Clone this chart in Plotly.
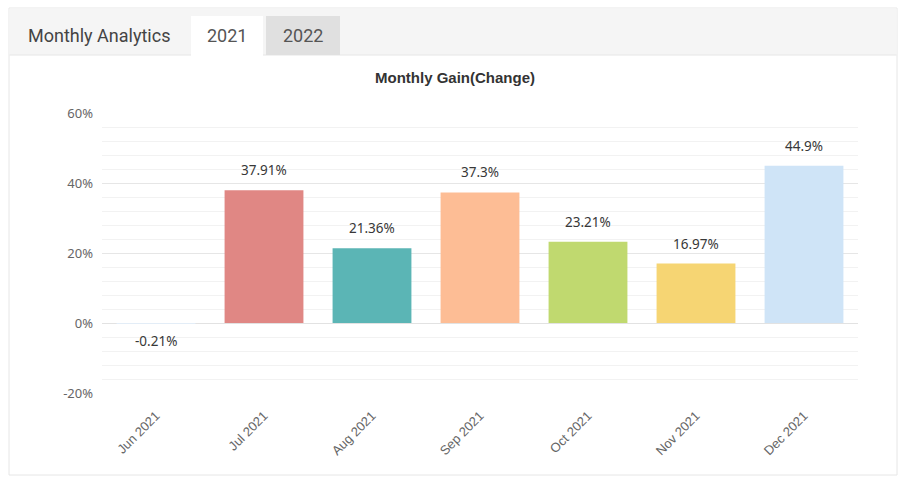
import plotly.graph_objects as go

months = ["Jun 2021", "Jul 2021", "Aug 2021", "Sep 2021", "Oct 2021", "Nov 2021", "Dec 2021"]
gains = [-0.21, 37.91, 21.36, 37.3, 23.21, 16.97, 44.9]
labels = ["-0.21%", "37.91%", "21.36%", "37.3%", "23.21%", "16.97%", "44.9%"]
colors = ["#e3edf7", "#e08784", "#5bb5b5", "#fdbd95", "#c0d96f", "#f6d573", "#cfe4f7"]
y_ticks = [-20, 0, 20, 40, 60]
y_tick_text = ["-20%", "0%", "20%", "40%", "60%"]

W, H = 908, 486
L, R, T, B = 102, 50, 113, 93
pw, ph = W - L - R, H - T - B


def px(x):
    return (x - L) / pw


def py(y):
    return (H - B - y) / ph


fig = go.Figure()
fig.add_trace(go.Bar(
    x=months, y=gains, marker=dict(color=colors, line=dict(width=0)),
    width=0.73, hoverinfo="x+y", showlegend=False,
))

for m, g, t in zip(months, gains, labels):
    fig.add_annotation(
        x=m, y=g, text=t, showarrow=False, xref="x", yref="y",
        yshift=20 if g >= 0 else -17, yanchor="middle",
        font=dict(family="Noto Sans", size=13.5, color="#383838"),
    )

shapes = []
# panel border
shapes.append(dict(type="rect", xref="paper", yref="paper",
                   x0=px(9), x1=px(897), y0=py(475), y1=py(8),
                   line=dict(color="#e6e6e6", width=1), fillcolor="rgba(0,0,0,0)", layer="below"))
# header band
shapes.append(dict(type="rect", xref="paper", yref="paper",
                   x0=px(9.5), x1=px(896.5), y0=py(55), y1=py(8.5),
                   line=dict(width=0), fillcolor="#f5f5f5", layer="below"))
shapes.append(dict(type="line", xref="paper", yref="paper",
                   x0=px(9.5), x1=px(896.5), y0=py(55), y1=py(55),
                   line=dict(color="#e6e6e6", width=1), layer="below"))
# tab 2021 (active)
shapes.append(dict(type="rect", xref="paper", yref="paper",
                   x0=px(191), x1=px(263), y0=py(56), y1=py(16),
                   line=dict(width=0), fillcolor="#ffffff", layer="below"))
# tab 2022
shapes.append(dict(type="rect", xref="paper", yref="paper",
                   x0=px(266), x1=px(340), y0=py(55), y1=py(16),
                   line=dict(width=0), fillcolor="#e0e0e0", layer="below"))

fig.update_layout(shapes=shapes)

fig.add_annotation(xref="paper", yref="paper", x=px(26), y=py(35), xanchor="left", yanchor="middle",
                   text="Monthly Analytics", showarrow=False,
                   font=dict(family="Roboto", size=18, color="#444444"))
fig.add_annotation(xref="paper", yref="paper", x=px(227), y=py(35), xanchor="center", yanchor="middle",
                   text="2021", showarrow=False,
                   font=dict(family="Roboto", size=18, color="#555555"))
fig.add_annotation(xref="paper", yref="paper", x=px(303), y=py(35), xanchor="center", yanchor="middle",
                   text="2022", showarrow=False,
                   font=dict(family="Roboto", size=18, color="#555555"))
fig.add_annotation(xref="paper", yref="paper", x=px(455), y=py(77), xanchor="center", yanchor="middle",
                   text="<b>Monthly Gain(Change)</b>", showarrow=False,
                   font=dict(family="Liberation Sans", size=15, color="#333333"))

fig.update_layout(
    width=W, height=H,
    margin=dict(l=L, r=R, t=T, b=B, pad=0),
    paper_bgcolor="#ffffff", plot_bgcolor="#ffffff",
    font=dict(family="Roboto", size=13, color="#666666"),
    xaxis=dict(
        showgrid=False, zeroline=False, showline=False,
        tickangle=-45, ticks="outside", ticklen=9, tickcolor="rgba(0,0,0,0)",
        tickfont=dict(family="Liberation Sans", size=13, color="#666666"),
        fixedrange=True,
    ),
    yaxis=dict(
        range=[-20, 60], tickvals=y_ticks, ticktext=y_tick_text,
        showgrid=True, gridcolor="#e6e6e6", gridwidth=1,
        zeroline=True, zerolinecolor="#e2e2e2", zerolinewidth=1,
        showline=False, ticks="", ticklabelstandoff=8,
        minor=dict(dtick=4, tick0=0, showgrid=True, gridcolor="#f2f2f2", gridwidth=1),
        tickfont=dict(family="Noto Sans", size=13, color="#666666"),
        fixedrange=True,
    ),
)

fig.write_html("out.html", config={"displayModeBar": False},
               post_script="document.body.style.margin='0';")
